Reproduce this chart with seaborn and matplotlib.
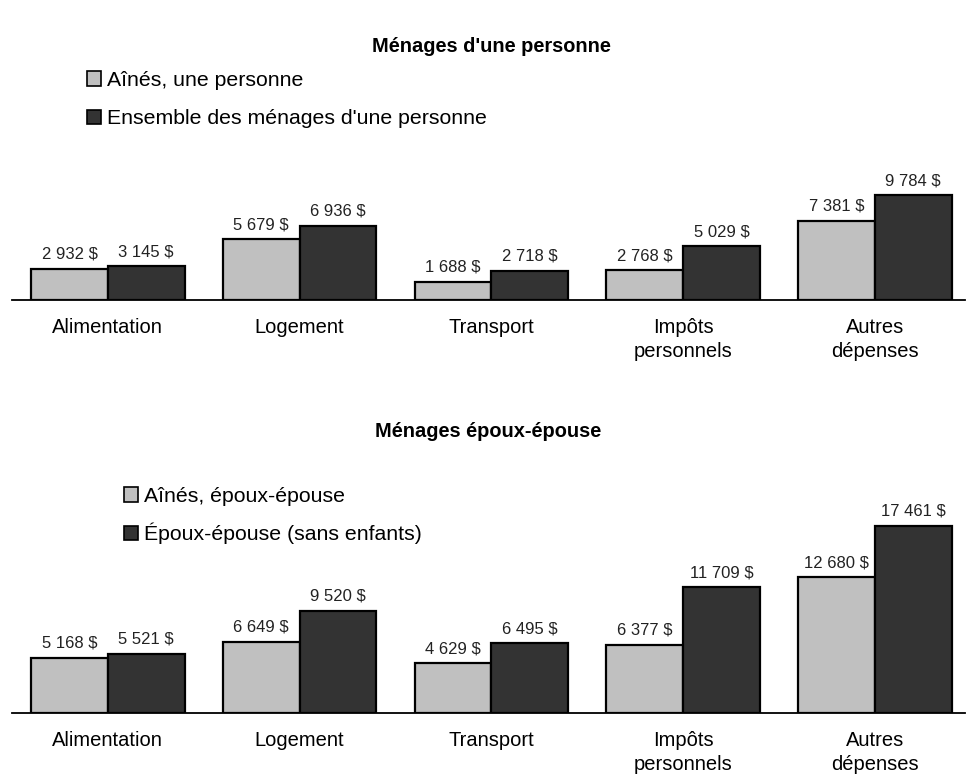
import matplotlib
matplotlib.use("Agg")
import matplotlib.pyplot as plt
from matplotlib.patches import Patch
import pandas as pd
import seaborn as sns

categories = ["Alimentation", "Logement", "Transport", "Impôts\npersonnels", "Autres\ndépenses"]

# Ménages d'une personne
single_series = ["Aînés, une personne", "Ensemble des ménages d'une personne"]
single_seniors = [2932, 5679, 1688, 2768, 7381]
single_all = [3145, 6936, 2718, 5029, 9784]

# Ménages époux-épouse
couple_series = ["Aînés, époux-épouse", "Époux-épouse (sans enfants)"]
couple_seniors = [5168, 6649, 4629, 6377, 12680]
couple_all = [5521, 9520, 6495, 11709, 17461]

light = "#c0c0c0"
dark = "#333333"

sns.set_style("white")
plt.rcParams["font.family"] = ["Liberation Sans", "DejaVu Sans"]
plt.rcParams["text.color"] = "black"
plt.rcParams["xtick.color"] = "black"


def fmt(v):
    return f"{v:,.0f} $".replace(",", " ")


def panel(ax, series, vals_a, vals_b):
    df = pd.DataFrame({
        "cat": categories * 2,
        "val": vals_a + vals_b,
        "serie": [series[0]] * 5 + [series[1]] * 5,
    })
    sns.barplot(data=df, x="cat", y="val", hue="serie", palette=[light, dark],
                edgecolor="black", linewidth=1.6, width=0.8, gap=0,
                legend=False, ax=ax)
    for cont in ax.containers:
        ax.bar_label(cont, labels=[fmt(v) for v in cont.datavalues],
                     padding=5, fontsize=12, color="#222222")
    ax.set_xlim(-0.5, 4.47)
    ax.set_ylim(0, 22370)
    ax.set_xlabel("")
    ax.set_ylabel("")
    ax.set_yticks([])
    for s in ["top", "left", "right"]:
        ax.spines[s].set_visible(False)
    ax.spines["bottom"].set_linewidth(1.3)
    ax.spines["bottom"].set_color("black")
    ax.tick_params(axis="x", length=0, pad=13, labelsize=14.5, labelcolor="black")
    for lab in ax.get_xticklabels():
        lab.set_linespacing(1.3)


fig = plt.figure(figsize=(9.75, 7.75), dpi=100)
W, H = 975, 775
ax1 = fig.add_axes([12 / W, 1 - 300 / H, 953 / W, 240 / H])
ax2 = fig.add_axes([12 / W, 1 - 713 / H, 953 / W, 240 / H])

panel(ax1, single_series, single_seniors, single_all)
panel(ax2, couple_series, couple_seniors, couple_all)

fig.text(491 / W, 1 - 47 / H, "Ménages d'une personne", ha="center", va="center",
         fontsize=14.4, fontweight="bold")
fig.text(488 / W, 1 - 432 / H, "Ménages époux-épouse", ha="center", va="center",
         fontsize=14.4, fontweight="bold")

for series, (x, y), sp in [(single_series, (87, 71), 0.9), (couple_series, (124, 487), 0.78)]:
    handles = [Patch(facecolor=light, edgecolor="black", linewidth=1.2),
               Patch(facecolor=dark, edgecolor="black", linewidth=1.2)]
    fig.legend(handles, series, loc="upper left", bbox_to_anchor=(x / W, 1 - y / H),
               frameon=False, fontsize=15.3, handlelength=0.65, handleheight=0.65,
               handletextpad=0.3, labelspacing=sp, borderpad=0, borderaxespad=0)

fig.savefig("out.png", dpi=100)
